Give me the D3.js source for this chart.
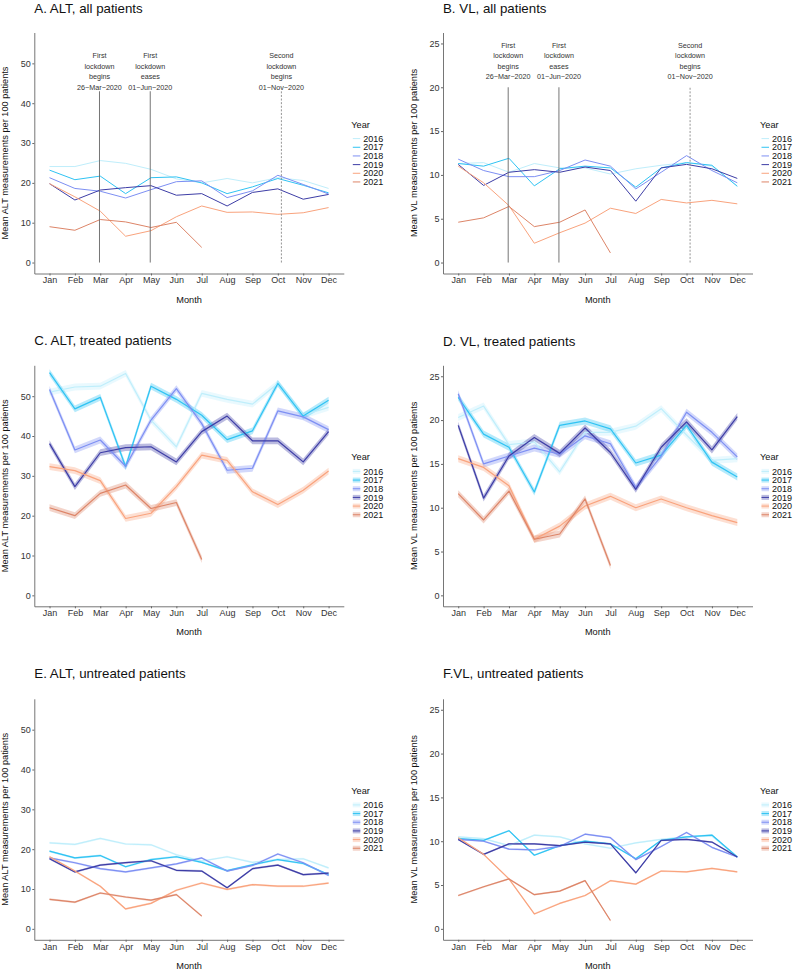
<!DOCTYPE html>
<html>
<head>
<meta charset="utf-8">
<script src="https://cdn.jsdelivr.net/npm/d3@7"></script>
<style>
  body { margin: 0; background: #fff; }
  text { font-family: "Liberation Sans", Arial, Helvetica, sans-serif; }
</style>
</head>
<body>
<svg id="chart" width="794" height="971"></svg>
<script>
const months = ["Jan","Feb","Mar","Apr","May","Jun","Jul","Aug","Sep","Oct","Nov","Dec"]
const years = ["2016","2017","2018","2019","2020","2021"]
const yearColors = ["#bfeefb","#2fc3f3","#7d8ff3","#3d3da6","#f9a37d","#dd8568"]

// rows = years 2016..2021 (2021 stops at Jul)
const altAll = [
  [24.1,24.1,25.6,24.9,23.4,21.0,20.0,21.1,20.0,21.3,20.6,18.6],
  [23.2,20.8,21.7,17.3,21.3,21.5,20.0,17.3,19.0,21.1,19.4,17.5],
  [21.3,18.6,17.9,16.2,18.3,20.3,20.5,16.3,18.0,21.9,19.6,17.2],
  [19.8,15.7,18.2,18.8,19.3,16.9,17.3,14.2,17.6,18.5,15.9,17.1],
  [19.8,16.5,12.9,6.6,8.0,11.5,14.2,12.6,12.7,12.1,12.5,13.8],
  [9.0,8.1,10.8,10.2,8.8,10.1,3.8]
]
const vlAll = [
  [11.3,11.4,10.3,11.3,10.8,10.8,10.1,10.7,11.1,11.4,11.0,8.75],
  [11.3,11.0,11.9,8.75,10.7,11.0,10.8,8.6,10.8,11.4,11.1,8.7],
  [11.8,10.5,9.8,9.8,10.5,11.7,11.0,8.4,10.3,12.2,10.5,9.1],
  [11.2,8.8,10.3,10.6,10.3,10.9,10.5,7.0,10.8,11.2,10.7,9.6],
  [11.0,9.1,6.5,2.2,3.4,4.5,6.2,5.6,7.2,6.8,7.1,6.7],
  [4.6,5.1,6.4,4.1,4.6,6.0,1.1]
]
const altTreated = [
  [51.0,52.3,52.5,55.7,44.0,37.3,50.7,49.2,48.0,53.2,45.2,47.2],
  [55.9,46.8,49.7,32.3,52.5,49.2,45.2,39.1,41.3,53.2,45.0,49.0],
  [51.7,36.5,39.0,32.4,44.0,51.9,43.1,31.4,31.9,46.3,44.8,41.6],
  [38.1,27.3,35.8,37.1,37.3,33.5,41.1,45.0,38.8,38.8,33.5,41.1],
  [32.3,31.3,28.8,19.3,20.6,27.3,35.2,33.9,26.0,22.8,26.4,31.2],
  [22.0,20.0,25.6,27.7,21.8,23.3,9.0]
]
const vlTreated = [
  [20.3,21.6,17.2,17.5,14.1,18.6,18.6,19.3,21.3,18.3,15.4,15.6],
  [22.6,18.4,16.9,11.8,19.4,19.9,19.0,15.1,16.0,19.4,15.2,13.5],
  [23.0,15.0,15.9,16.8,16.1,18.2,17.3,12.3,15.9,20.9,18.6,15.8],
  [19.4,11.1,15.9,18.0,16.2,19.1,16.3,12.1,16.9,19.8,16.6,20.4],
  [15.6,14.6,12.5,6.4,7.9,10.2,11.3,10.0,11.0,10.0,9.1,8.3],
  [11.6,8.6,11.9,6.4,7.0,11.0,3.4]
]
const altUntreated = [
  [21.6,21.2,22.7,21.3,21.1,18.6,17.0,18.1,16.7,17.4,17.6,15.3],
  [19.5,17.8,18.4,15.6,17.4,18.1,16.7,14.6,16.1,17.4,16.4,13.6],
  [17.8,16.6,15.1,14.3,15.3,16.3,17.8,14.5,15.9,18.8,16.6,13.4],
  [17.6,14.3,16.0,16.6,17.1,14.7,14.5,10.3,15.1,16.0,13.6,14.0],
  [18.1,14.5,10.7,5.0,6.4,9.7,11.5,9.9,11.1,10.7,10.7,11.5],
  [7.4,6.7,9.0,8.0,7.2,8.6,3.2]
]
const vlUntreated = [
  [10.5,10.3,9.5,10.7,10.5,9.7,9.2,9.8,10.2,10.5,10.6,8.2],
  [10.3,10.1,11.2,8.4,9.5,10.0,9.7,8.0,10.1,10.5,10.7,8.2],
  [10.2,10.0,9.1,9.0,9.4,10.8,10.4,7.9,9.4,11.0,9.3,8.2],
  [10.2,8.5,9.7,9.7,9.5,9.9,9.7,6.4,10.1,10.2,9.9,8.2],
  [10.4,8.5,5.7,1.7,2.9,3.8,5.5,5.1,6.6,6.5,6.9,6.5],
  [3.8,4.8,5.7,3.9,4.3,5.5,0.95]
]
// approximate half-width of the shaded band, per panel (data units)
const bandHalf = [0, 0, 0.85, 0.4, 0.25, 0.1]

const altTicks = [0,10,20,30,40,50]
const vlTicks = [0,5,10,15,20,25]

// lockdown markers (month position, Jan = 1)
const eventMonth = [2.97, 4.97, 10.14]
const eventLabels = [
  ["First","lockdown","begins","26\u2212Mar\u22122020"],
  ["First","lockdown","eases","01\u2212Jun\u22122020"],
  ["Second","lockdown","begins","01\u2212Nov\u22122020"]
]

const panels = [
  {title: "A. ALT, all patients", ylab: "Mean ALT measurements per 100 patients", data: altAll, alt: true, events: true, col: 0, row: 0, tb: 12.7},
  {title: "B. VL, all patients", ylab: "Mean VL measurements per 100 patients", data: vlAll, alt: false, events: true, col: 1, row: 0, tb: 13.3},
  {title: "C. ALT, treated patients", ylab: "Mean ALT measurements per 100 patients", data: altTreated, alt: true, events: false, col: 0, row: 1, tb: 345},
  {title: "D. VL, treated patients", ylab: "Mean VL measurements per 100 patients", data: vlTreated, alt: false, events: false, col: 1, row: 1, tb: 346},
  {title: "E. ALT, untreated patients", ylab: "Mean ALT measurements per 100 patients", data: altUntreated, alt: true, events: false, col: 0, row: 2, tb: 678},
  {title: "F.VL, untreated patients", ylab: "Mean VL measurements per 100 patients", data: vlUntreated, alt: false, events: false, col: 1, row: 2, tb: 678.3}
]

const colLeft = [34.3, 443]
const rowTop = [32.5, 365.3, 698.8]
const pw = 309.5, ph = 241

const svg = d3.select("#chart")

panels.forEach((p, pi) => {
  const left = colLeft[p.col], top = rowTop[p.row]
  const g = svg.append("g")

  const x = d3.scalePoint().domain(months).range([left, left + pw]).padding(0.6)
  const step = x.step()
  const xm = m => x("Jan") + (m - 1) * step
  const ymax = p.alt ? 55 : 25
  const y = d3.scaleLinear().domain([-0.05 * ymax, 1.05 * ymax]).range([top + ph, top])
  const r = bandHalf[pi]

  // title
  g.append("text").attr("x", left).attr("y", p.tb)
    .attr("font-size", 13.3).attr("fill", "#111").text(p.title)

  // bands
  if (r > 0) {
    p.data.forEach((vals, yi) => {
      const area = d3.area()
        .x((d, i) => x(months[i]))
        .y0(d => y(d - r))
        .y1(d => y(d + r))
      g.append("path").datum(vals).attr("d", area)
        .attr("fill", yearColors[yi]).attr("fill-opacity", 0.35)
    })
  }

  // lines
  p.data.forEach((vals, yi) => {
    const line = d3.line().x((d, i) => x(months[i])).y(d => y(d))
    g.append("path").datum(vals).attr("d", line)
      .attr("fill", "none").attr("stroke", yearColors[yi])
      .attr("stroke-width", p.row === 0 ? 1 : 1.2)
      .attr("stroke-linejoin", "round")
  })

  // lockdown markers
  if (p.events) {
    const lineTop = p.alt ? 43 : 20
    const labelMid = p.alt ? 48 : 23
    eventMonth.forEach((m, ei) => {
      const dashed = ei === 2
      g.append("line")
        .attr("x1", xm(m)).attr("x2", xm(m))
        .attr("y1", y(0)).attr("y2", y(lineTop))
        .attr("stroke", dashed ? "#888" : "#666")
        .attr("stroke-width", dashed ? 0.9 : 0.9)
        .attr("stroke-dasharray", dashed ? "2,1.6" : null)
      const cy = y(labelMid)
      eventLabels[ei].forEach((t, li) => {
        g.append("text")
          .attr("x", xm(m)).attr("y", cy + (li - 1.5) * 10.4 + 2.6)
          .attr("text-anchor", "middle").attr("font-size", 7.2)
          .attr("fill", "#333").text(t)
      })
    })
  }

  // axes
  const xAxis = g.append("g").attr("transform", `translate(0,${top + ph})`)
    .call(d3.axisBottom(x).tickSize(2).tickSizeOuter(0).tickPadding(1.5))
  const yAxis = g.append("g").attr("transform", `translate(${left},0)`)
    .call(d3.axisLeft(y).tickValues(p.alt ? altTicks : vlTicks).tickSize(2).tickSizeOuter(0).tickPadding(1.5))
  ;[xAxis, yAxis].forEach(a => {
    a.select(".domain").attr("stroke", "#666").attr("stroke-width", 0.9)
    a.selectAll(".tick line").attr("stroke", "#666")
    a.selectAll(".tick text").attr("font-size", 9).attr("fill", "#333")
      .style("font-family", '"Liberation Sans", Arial, sans-serif')
  })

  // axis titles
  g.append("text").attr("x", left + pw / 2).attr("y", top + ph + 29)
    .attr("text-anchor", "middle").attr("font-size", 9.2).attr("fill", "#111").text("Month")
  g.append("text")
    .attr("transform", `translate(${left - 26},${top + ph / 2}) rotate(-90)`)
    .attr("text-anchor", "middle").attr("font-size", 9.2).attr("fill", "#111").text(p.ylab)

  // legend
  const lx = left + pw, cy = top + ph / 2
  g.append("text").attr("x", lx + 7.5).attr("y", cy - 25.5)
    .attr("font-size", 9.2).attr("fill", "#111").text("Year")
  years.forEach((yr, yi) => {
    const ey = cy - 14.4 + yi * 8.67
    if (r > 0) {
      g.append("rect").attr("x", lx + 9).attr("y", ey - 2.5).attr("width", 7.5).attr("height", 5)
        .attr("fill", yearColors[yi]).attr("fill-opacity", 0.35)
    }
    g.append("line").attr("x1", lx + 9).attr("x2", lx + 16.5).attr("y1", ey).attr("y2", ey)
      .attr("stroke", yearColors[yi]).attr("stroke-width", 1)
    g.append("text").attr("x", lx + 19.5).attr("y", ey + 3.2)
      .attr("font-size", 9).attr("fill", "#111").text(yr)
  })
})
</script>
</body>
</html>
